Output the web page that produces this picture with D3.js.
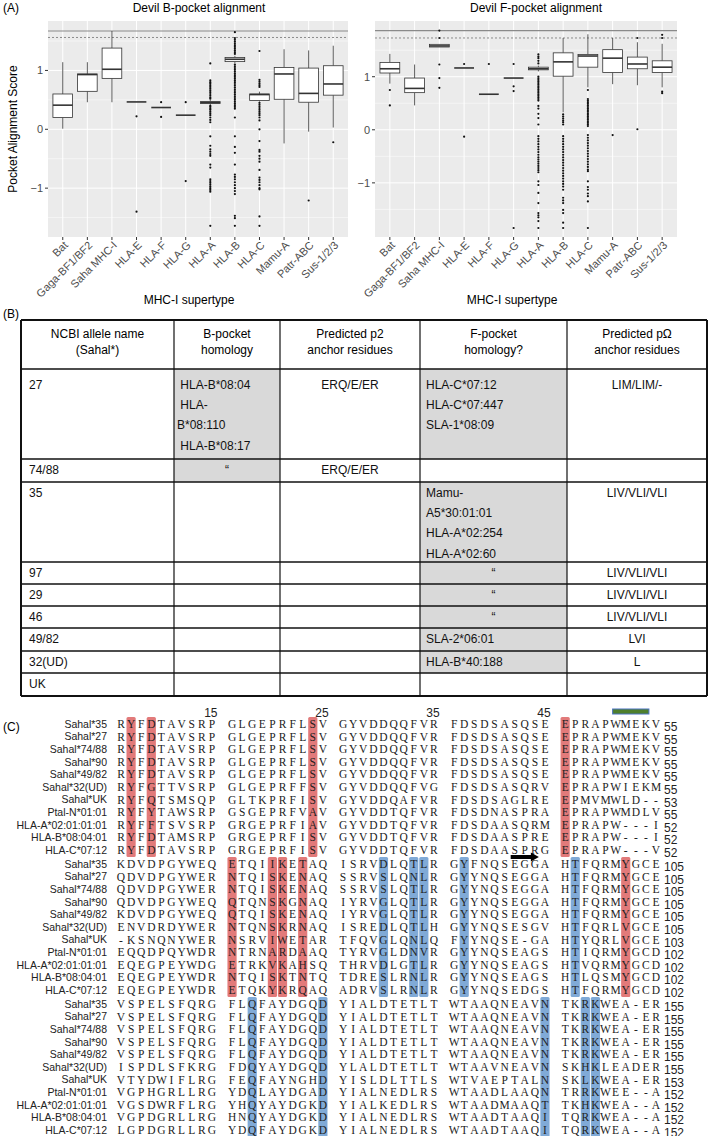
<!DOCTYPE html>
<html>
<head>
<meta charset="utf-8">
<script src="https://cdn.jsdelivr.net/npm/d3@7"></script>
<style>
  body { margin: 0; background: #fff; }
  svg { display: block; font-family: "Liberation Sans", Arial, sans-serif; }
</style>
</head>
<body>
<svg width="709" height="1136"></svg>
<script>
// ---------- panel A data ----------
const supertypes = ["Bat", "Gaga-BF1/BF2", "Saha MHC-I", "HLA-E", "HLA-F", "HLA-G",
  "HLA-A", "HLA-B", "HLA-C", "Mamu-A", "Patr-ABC", "Sus-1/2/3"];
const yTicks = [-1, 0, 1];

// [lower whisker, Q1, median, Q3, upper whisker]
const bPocketStats = [
  [0.01, 0.20, 0.41, 0.60, 1.14],
  [0.46, 0.645, 0.93, 0.94, 1.14],
  [0.46, 0.865, 1.02, 1.38, 1.67],
  [0.465, 0.465, 0.465, 0.465, 0.465],
  [0.37, 0.37, 0.37, 0.37, 0.37],
  [0.24, 0.24, 0.24, 0.24, 0.24],
  [0.41, 0.44, 0.455, 0.47, 0.50],
  [1.12, 1.15, 1.19, 1.22, 1.25],
  [0.47, 0.49, 0.59, 0.60, 0.64],
  [-0.24, 0.51, 0.94, 1.05, 1.36],
  [-0.04, 0.46, 0.61, 1.04, 1.34],
  [0.03, 0.58, 0.77, 1.08, 1.42]
];
const bPocketOutliers = [
  [], [], [],
  [0.22, -1.40],
  [0.46, 0.21],
  [0.46, -0.88],
  [1.12, 0.83, 0.80, 0.78, 0.75, 0.72, 0.69, 0.66, 0.63, 0.60, 0.57, 0.54, 0.52, 0.40, 0.38, 0.35,
   0.33, 0.30, 0.27, 0.24, 0.20, 0.16, 0.12, -0.12, -0.28, -0.34, -0.38, -0.42, -0.45, -0.60, -0.65,
   -0.85, -0.88, -0.91, -0.94, -0.97, -1.00, -1.03, -1.06, -1.64],
  [1.65, 1.55, 1.52, 1.49, 1.46, 1.43, 1.40, 1.37, 1.34, 1.31, 1.28, 1.10, 1.07, 1.04, 1.01, 0.98,
   0.95, 0.92, 0.89, 0.86, 0.83, 0.80, 0.77, 0.74, 0.71, 0.68, 0.65, 0.62, 0.59, 0.56, 0.53, 0.50,
   0.47, 0.44, 0.41, 0.38, 0.35, 0.20, -0.12, -0.30, -0.40, -0.60, -0.77, -0.81, -0.85, -0.90, -0.95,
   -1.00, -1.05, -1.10, -1.47, -1.51, -1.64],
  [1.33, 0.84, 0.81, 0.78, 0.75, 0.72, 0.45, 0.42, 0.39, 0.36, 0.33, 0.30, 0.27, 0.24, 0.20, 0.15,
   0.00, -0.20, -0.35, -0.38, -0.45, -0.50, -0.55, -0.69, -0.82, -0.86, -0.90, -0.95, -1.00, -1.02,
   -1.48, -1.64],
  [],
  [-1.21],
  [-0.22]
];
const bPocketRefs = [1.67, 1.56];   // solid, dotted

const fPocketStats = [
  [0.87, 1.07, 1.15, 1.27, 1.43],
  [0.46, 0.70, 0.78, 0.975, 1.23],
  [1.56, 1.56, 1.58, 1.61, 1.61],
  [1.165, 1.165, 1.165, 1.165, 1.165],
  [0.67, 0.67, 0.67, 0.67, 0.67],
  [0.975, 0.975, 0.975, 0.975, 0.975],
  [1.10, 1.13, 1.15, 1.18, 1.21],
  [0.33, 1.01, 1.28, 1.45, 1.73],
  [0.80, 1.18, 1.39, 1.42, 1.80],
  [0.86, 1.08, 1.35, 1.51, 1.73],
  [0.84, 1.15, 1.24, 1.37, 1.65],
  [0.80, 1.08, 1.18, 1.30, 1.62]
];
const fPocketOutliers = [
  [0.75, 0.46],
  [],
  [1.87, 1.73, 1.23, 0.975, 0.79],
  [1.24, -0.13],
  [1.24],
  [1.24, 0.82, 0.73, -1.85],
  [1.42, 1.38, 1.35, 1.30, 1.25, 1.00, 0.97, 0.94, 0.91, 0.88, 0.85, 0.82, 0.79, 0.76, 0.73, 0.70,
   0.67, 0.64, 0.61, 0.58, 0.55, 0.45, 0.40, 0.30, 0.22, 0.10, -0.12, -0.17, -0.22, -0.27, -0.32,
   -0.37, -0.42, -0.47, -0.52, -0.56, -0.60, -0.64, -0.68, -0.72, -0.76, -0.80, -0.97, -1.04, -1.19,
   -1.38, -1.57, -1.61, -1.65, -1.72, -1.85],
  [0.29, 0.25, 0.21, 0.17, 0.14, 0.10, -0.12, -0.17, -0.22, -0.27, -0.32, -0.37, -0.42, -0.47, -0.52,
   -0.57, -0.62, -0.67, -0.72, -0.77, -0.82, -0.87, -0.92, -0.97, -1.02, -1.07, -1.13, -1.28, -1.33,
   -1.38, -1.51, -1.57, -1.75, -1.85],
  [0.75, 0.58, 0.55, 0.52, 0.49, 0.46, 0.43, 0.40, 0.37, 0.34, 0.31, 0.28, 0.25, 0.22, 0.19, 0.16,
   0.13, 0.10, 0.07, -0.10, -0.15, -0.20, -0.25, -0.30, -0.35, -0.40, -0.45, -0.50, -0.55, -0.60,
   -0.65, -0.70, -0.75, -0.78, -0.97, -1.08, -1.13, -1.20, -1.25, -1.35, -1.85],
  [-0.10],
  [1.73, 0.01],
  [1.79, 1.73, 0.72, 0.69]
];
const fPocketRefs = [1.87, 1.73];

// ---------- panel B data ----------
const tableHeaders = [
  ["NCBI allele name", "(Sahal*)"],
  ["B-pocket", "homology"],
  ["Predicted p2", "anchor residues"],
  ["F-pocket", "homology?"],
  ["Predicted p\u03A9", "anchor residues"]
];
const alleleNames = ["27", "74/88", "35", "97", "29", "46", "49/82", "32(UD)", "UK"];
const bPocketHomology = [[" HLA-B*08:04", " HLA-", "B*08:110", " HLA-B*08:17"], ["\u201C"], [], [], [], [], [], [], []];
const p2Anchors = ["ERQ/E/ER", "ERQ/E/ER", "", "", "", "", "", "", ""];
const fPocketHomology = [["HLA-C*07:12", "HLA-C*07:447", "SLA-1*08:09"], [],
  ["Mamu-", "A5*30:01:01", "HLA-A*02:254", "HLA-A*02:60"], ["\u201C"], ["\u201C"], ["\u201C"],
  ["SLA-2*06:01"], ["HLA-B*40:188"], []];
const pOmegaAnchors = ["LIM/LIM/-", "", "LIV/VLI/VLI", "LIV/VLI/VLI", "LIV/VLI/VLI", "LIV/VLI/VLI", "LVI", "L", ""];

// ---------- panel C data ----------
const seqNames = ["Sahal*35", "Sahal*27", "Sahal*74/88", "Sahal*90", "Sahal*49/82", "Sahal*32(UD)",
  "Sahal*UK", "Ptal-N*01:01", "HLA-A*02:01:01:01", "HLA-B*08:04:01", "HLA-C*07:12"];
const block1 = [
  "RYFDTAVSRPGLGEPRFLSVGYVDDQQFVRFDSDSASQSEEPRAPWMEKV",
  "RYFDTAVSRPGLGEPRFLSVGYVDDQQFVRFDSDSASQSEEPRAPWMEKV",
  "RYFDTAVSRPGLGEPRFLSVGYVDDQQFVRFDSDSASQSEEPRAPWMEKV",
  "RYFDTAVSRPGLGEPRFLSVGYVDDQQFVRFDSDSASQSEEPRAPWMEKV",
  "RYFDTAVSRPGLGEPRFLSVGYVDDQQFVRFDSDSASQSEEPRAPWMEKV",
  "RYFGTTVSRPGLGEPRFFSVGYVDDQQFVGFDSDSASQRVEPRAPWIEKM",
  "RYFQTSMSQPGLTKPRFISVGYVDDQAFVRFDSDSAGLREEPMVMWLD--",
  "RYFYTAWSRPGSGEPRFVAVGYVDDTQFVRFDSDNASPRAEPRAPWMDLV",
  "RYFFTSVSRPGRGEPRFIAVGYVDDTQFVRFDSDAASQRMEPRAPW---I",
  "RYFDTAMSRPGRGEPRFISVGYVDDTQFVRFDSDAASPREEPRAPW---I",
  "RYFDTAVSRPGRGEPRFISVGYVDDTQFVRFDSDAASPRGEPRAPW---V"
];
const block1Ends = [55, 55, 55, 55, 55, 55, 53, 55, 52, 52, 52];
const block2 = [
  "KDVDPGYWEQETQIIKETAQISRVDLQTLRGYFNQSEGGAHTFQRMYGCE",
  "QDVDPGYWERNTQISKENAQSSRVSLQNLRGYYNQSEGGAHTFQRMYGCE",
  "QDVDPGYWERNTQISKENAQSSRVSLQTLRGYYNQSEGGAHTFQRMYGCE",
  "QDVDPGYWEQQTQNSKGNAQIYRVGLQTLRGYYNQSEGGAHTFQRMYGCE",
  "KDVDPGYWEQQTQISKENAQIYRVGLQTLRGYYNQSEGGAHTFQRMYGCE",
  "ENVDRDYWERNTQNSKRNAQISREDLQTLHGYYNQSESGVHTFQRLVGCE",
  "-KSNQNYWERNSRVIWETARTFQVGLQNLQFYYNQSE-GAHTYQRLVGCE",
  "EQQDPQYWDRNTRNARDAAQTYRVGLDNVRGYYNQSEAGSHTIQRMYGCD",
  "EQEGPEYWDGETRKVKAHSQTHRVDLGTLRGYYNQSEAGSHTVQRMYGCD",
  "EQEGPEYWDRNTQISKTNTQTDRESLRNLRGYYNQSEAGSHTLQSMYGCD",
  "EQEGPEYWDRETQKYKRQAQADRVSLRNLRGYYNQSEDGSHTFQRMYGCD"
];
const block2Ends = [105, 105, 105, 105, 105, 105, 103, 102, 102, 102, 102];
const block3 = [
  "VSPELSFQRGFLQFAYDGQDYIALDTETLTWTAAQNEAVNTKRKWEA-ER",
  "VSPELSFQRGFLQFAYDGQDYIALDTETLTWTAAQNEAVNTKRKWEA-ER",
  "VSPELSFQRGFLQFAYDGQDYIALDTETLTWTAAQNEAVNTKRKWEA-ER",
  "VSPELSFQRGFLQFAYDGQDYIALDTETLTWTAAQNEAVNTKRKWEA-ER",
  "VSPELSFQRGFLQFAYDGQDYIALDTETLTWTAAQNEAVNTKRKWEA-ER",
  "ISPDLSFKRGFDQYAYDGQDYLALDTETLTWTAAVNEAVNSKHKLEADER",
  "VTYDWIFLRGFEQFAYNGHDYISLDLTTLSWTVAEPTALNSKLKWEA-ER",
  "VGPHGRLLRGYDQLAYDGADYIALNEDLRSWTAADLAAQNTRRKWEE--A",
  "VGSDWRFLRGYHQYAYDGKDYIALKEDLRSWTAADMAAQTTKHKWEA--A",
  "VGPDGRLLRGHNQYAYDGKDYIALNEDLRSWTAADTAAQITQRKWEA--A",
  "LGPDGRLLRGYDQFAYDGKDYIALNEDLRSWTAADTAAQITQRKWEA--A"
];
const block3Ends = [155, 155, 155, 155, 155, 155, 153, 152, 152, 152, 152];
const redCols = [[1, 3, 18, 40], [10, 14, 15, 17, 46], []];
const blueCols = [[], [24, 27, 28, 31, 41], [12, 19, 39, 42, 43]];
const positionLabels = ["15", "25", "35", "45"];
const positionCols = [9, 19, 29, 39];
const greenBarCols = [45, 48];
const arrowCols = [36, 38];

// ---------- drawing ----------
const svg = d3.select("svg");
const serif = "'Liberation Serif', 'Times New Roman', serif";

svg.append("text").attr("x", 3).attr("y", 12).attr("font-size", 12).text("(A)");

function boxPanel(stats, outliers, refs, domain, left, right, title, titleX, xTitleX, yTitle) {
  const top = 21, bottom = 237;
  const x = d3.scalePoint().domain(supertypes).range([left, right]).padding(0.6);
  const y = d3.scaleLinear().domain(domain).range([bottom, top]);
  const g = svg.append("g");

  g.append("rect")
    .attr("x", left).attr("y", top)
    .attr("width", right - left).attr("height", bottom - top)
    .attr("fill", "#ebebeb");

  // grid
  g.selectAll(".minor")
    .data(y.ticks(8).filter(v => v % 1 !== 0))
    .join("line")
      .attr("x1", left).attr("x2", right)
      .attr("y1", d => y(d)).attr("y2", d => y(d))
      .attr("stroke", "#fff").attr("stroke-width", 0.5);
  g.selectAll(".major")
    .data(yTicks)
    .join("line")
      .attr("x1", left).attr("x2", right)
      .attr("y1", d => y(d)).attr("y2", d => y(d))
      .attr("stroke", "#fff").attr("stroke-width", 1);
  g.selectAll(".vgrid")
    .data(supertypes)
    .join("line")
      .attr("x1", d => x(d)).attr("x2", d => x(d))
      .attr("y1", top).attr("y2", bottom)
      .attr("stroke", "#fff").attr("stroke-width", 1);

  // reference lines
  g.append("line")
    .attr("x1", left).attr("x2", right)
    .attr("y1", y(refs[0])).attr("y2", y(refs[0]))
    .attr("stroke", "#8a8a8a").attr("stroke-width", 1.2);
  g.append("line")
    .attr("x1", left).attr("x2", right)
    .attr("y1", y(refs[1])).attr("y2", y(refs[1]))
    .attr("stroke", "#8a8a8a").attr("stroke-width", 1)
    .attr("stroke-dasharray", "2,2");

  // boxes
  const bw = x.step() * 0.8;
  const box = g.selectAll(".box")
    .data(stats)
    .join("g")
      .attr("transform", (d, i) => `translate(${x(supertypes[i])},0)`);
  box.append("line")
    .attr("y1", d => y(d[0])).attr("y2", d => y(d[1]))
    .attr("stroke", "#333").attr("stroke-width", 0.8);
  box.append("line")
    .attr("y1", d => y(d[3])).attr("y2", d => y(d[4]))
    .attr("stroke", "#333").attr("stroke-width", 0.8);
  box.append("rect")
    .attr("x", -bw / 2).attr("width", bw)
    .attr("y", d => y(d[3]))
    .attr("height", d => y(d[1]) - y(d[3]))
    .attr("fill", "#fff").attr("stroke", "#333").attr("stroke-width", 0.8);
  box.append("line")
    .attr("x1", -bw / 2).attr("x2", bw / 2)
    .attr("y1", d => y(d[2])).attr("y2", d => y(d[2]))
    .attr("stroke", "#333").attr("stroke-width", 1.6);
  box.selectAll("circle")
    .data((d, i) => outliers[i])
    .join("circle")
      .attr("cy", v => y(v))
      .attr("r", 1.1)
      .attr("fill", "#111");

  // axes
  g.selectAll(".ytick")
    .data(yTicks)
    .join("line")
      .attr("x1", left - 3).attr("x2", left)
      .attr("y1", d => y(d)).attr("y2", d => y(d))
      .attr("stroke", "#333");
  g.selectAll(".ylab")
    .data(yTicks)
    .join("text")
      .attr("x", left - 5).attr("y", d => y(d)).attr("dy", "0.35em")
      .attr("text-anchor", "end").attr("font-size", 11).attr("fill", "#4d4d4d")
      .text(d => d < 0 ? "\u2212" + Math.abs(d) : d);
  g.selectAll(".xtick")
    .data(supertypes)
    .join("line")
      .attr("x1", d => x(d)).attr("x2", d => x(d))
      .attr("y1", bottom).attr("y2", bottom + 3)
      .attr("stroke", "#333");
  g.selectAll(".xlab")
    .data(supertypes)
    .join("text")
      .attr("transform", d => `translate(${x(d)},${bottom + 3}) rotate(-45)`)
      .attr("dy", "0.75em")
      .attr("text-anchor", "end").attr("font-size", 11).attr("fill", "#4d4d4d")
      .text(d => d);

  g.append("text")
    .attr("x", titleX).attr("y", 12)
    .attr("text-anchor", "middle").attr("font-size", 12)
    .text(title);
  g.append("text")
    .attr("x", xTitleX).attr("y", 304)
    .attr("text-anchor", "middle").attr("font-size", 12)
    .text("MHC-I supertype");
  if (yTitle) {
    g.append("text")
      .attr("transform", `translate(17,${(top + bottom) / 2}) rotate(-90)`)
      .attr("text-anchor", "middle").attr("font-size", 12)
      .text(yTitle);
  }
}

boxPanel(bPocketStats, bPocketOutliers, bPocketRefs, [-1.83, 1.84], 48, 348,
  "Devil B-pocket alignment", 199, 189, "Pocket Alignment Score");
boxPanel(fPocketStats, fPocketOutliers, fPocketRefs, [-2.02, 2.05], 375, 677,
  "Devil F-pocket alignment", 536, 512, null);

// ---------- panel B: table ----------
svg.append("text").attr("x", 3).attr("y", 318).attr("font-size", 12).text("(B)");

const colEdges = [21, 174, 280, 420, 567, 707];
const rowEdges = [320, 369, 459, 482, 562, 584, 606, 628, 651, 673, 696];
const table = svg.append("g").attr("font-size", 12);
const cellCols = [alleleNames.map(d => [d]), bPocketHomology, p2Anchors.map(d => d ? [d] : []),
  fPocketHomology, pOmegaAnchors.map(d => d ? [d] : [])];
const colAlign = ["start", "start", "middle", "start", "middle"];
const colPad = [8, 3, 0, 6, 0];
const isCentred = (d, c) => d === "\u201C" || colAlign[c] === "middle";

// shaded cells
[1, 3].forEach(c => {
  table.selectAll(".shade" + c)
    .data(cellCols[c])
    .join("rect")
      .attr("x", colEdges[c]).attr("width", colEdges[c + 1] - colEdges[c])
      .attr("y", (d, i) => rowEdges[i + 1])
      .attr("height", (d, i) => rowEdges[i + 2] - rowEdges[i + 1])
      .attr("fill", d => d.length ? "#d9d9d9" : "none");
});

// header
tableHeaders.forEach((lines, c) => {
  table.selectAll(".hdr" + c)
    .data(lines)
    .join("text")
      .attr("x", (colEdges[c] + colEdges[c + 1]) / 2)
      .attr("y", (d, j) => 338 + j * 16)
      .attr("text-anchor", "middle")
      .text(d => d);
});

// body cells (first row sits a little lower in its cell)
cellCols.forEach((col, c) => {
  col.forEach((lines, r) => {
    const first = r === 0 ? 20 : 15;
    table.selectAll(`.cell${c}_${r}`)
      .data(lines)
      .join("text")
        .attr("x", d => isCentred(d, c) ? (colEdges[c] + colEdges[c + 1]) / 2 : colEdges[c] + colPad[c])
        .attr("y", (d, j) => rowEdges[r + 1] + first + j * 20.2)
        .attr("text-anchor", d => isCentred(d, c) ? "middle" : "start")
        .attr("fill", "#111")
        .style("white-space", "pre")
        .text(d => d);
  });
});

// borders
table.selectAll(".hline")
  .data(rowEdges)
  .join("line")
    .attr("x1", colEdges[0]).attr("x2", colEdges[5])
    .attr("y1", d => d).attr("y2", d => d)
    .attr("stroke", "#111")
    .attr("stroke-width", (d, i) => (i === 0 || i === rowEdges.length - 1) ? 2 : 1.4);
table.selectAll(".vline")
  .data(colEdges)
  .join("line")
    .attr("x1", d => d).attr("x2", d => d)
    .attr("y1", rowEdges[0]).attr("y2", rowEdges[rowEdges.length - 1])
    .attr("stroke", "#111")
    .attr("stroke-width", (d, i) => (i === 0 || i === colEdges.length - 1) ? 2 : 1.2);

// ---------- panel C: alignment ----------
svg.append("text").attr("x", 3).attr("y", 731).attr("font-size", 12).text("(C)");

const slotX = d3.scaleLinear().domain([0, 53]).range([121, 656]);
const colX = i => slotX(i + Math.floor(i / 10));
const rowY = d3.scaleLinear().domain([0, 10]).range([0, 126]);
const blockTops = [724, 864, 1004];
const blocks = [block1, block2, block3];
const blockEnds = [block1Ends, block2Ends, block3Ends];

blocks.forEach((seqs, b) => {
  const top = blockTops[b];
  const g = svg.append("g");

  // highlighted columns
  g.selectAll(".red")
    .data(redCols[b])
    .join("rect")
      .attr("x", c => colX(c) - 4.6).attr("width", 9.2)
      .attr("y", top + rowY(0) - 7).attr("height", rowY(10) + 14)
      .attr("rx", 1.5)
      .attr("fill", "#e27a7a");
  g.selectAll(".blue")
    .data(blueCols[b])
    .join("rect")
      .attr("x", c => colX(c) - 4.6).attr("width", 9.2)
      .attr("y", top + rowY(0) - 7).attr("height", rowY(10) + 14)
      .attr("rx", 1.5)
      .attr("fill", "#80aad7");

  // names
  g.selectAll(".name")
    .data(seqNames)
    .join("text")
      .attr("x", 107).attr("y", (d, r) => top + rowY(r) + 3.8)
      .attr("text-anchor", "end").attr("font-size", 10.5).attr("fill", "#222")
      .text(d => d);

  // residues
  const row = g.selectAll(".row")
    .data(seqs)
    .join("g")
      .attr("transform", (d, r) => `translate(0,${top + rowY(r) + 4})`);
  row.selectAll("text")
    .data(d => d.split(""))
    .join("text")
      .attr("x", (d, i) => colX(i))
      .attr("text-anchor", "middle")
      .attr("font-family", serif).attr("font-size", 11.5).attr("fill", "#222")
      .text(d => d);

  // end positions
  g.selectAll(".end")
    .data(blockEnds[b])
    .join("text")
      .attr("x", colX(49) + 8).attr("y", (d, r) => top + rowY(r) + 7)
      .attr("font-size", 12).attr("fill", "#222")
      .text(d => d);
});

// position ruler and markers
svg.selectAll(".pos")
  .data(positionLabels)
  .join("text")
    .attr("x", (d, i) => colX(positionCols[i]) - 1)
    .attr("y", blockTops[0] - 7)
    .attr("text-anchor", "middle").attr("font-size", 12).attr("fill", "#222")
    .text(d => d);

svg.append("rect")
  .attr("x", colX(greenBarCols[0]) - 3)
  .attr("width", colX(greenBarCols[1]) - colX(greenBarCols[0]) + 6)
  .attr("y", blockTops[0] - 15).attr("height", 5)
  .attr("fill", "#4e7f2c").attr("stroke", "#4a72c0").attr("stroke-width", 1);

const ax0 = colX(arrowCols[0]) - 4, ax1 = colX(arrowCols[1]) + 4, ay = blockTops[1] - 7;
svg.append("path")
  .attr("d", `M${ax0},${ay - 2}L${ax1 - 8},${ay - 2}L${ax1 - 8},${ay - 4.5}L${ax1},${ay}` +
    `L${ax1 - 8},${ay + 4.5}L${ax1 - 8},${ay + 2}L${ax0},${ay + 2}Z`)
  .attr("fill", "#000");
</script>
</body>
</html>
